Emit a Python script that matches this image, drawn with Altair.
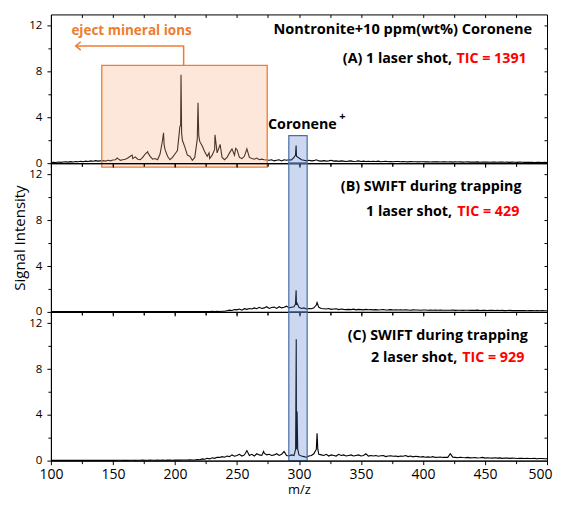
import altair as alt
import pandas as pd

# ---------------- data ----------------
MZ_GRID = list(range(100, 501, 2))

A_INT = [
    0.05, 0.08, 0.06, 0.10, 0.07, 0.10, 0.12, 0.09, 0.13, 0.10,
    0.15, 0.12, 0.16, 0.13, 0.18, 0.15, 0.20, 0.17, 0.22, 0.18,
    0.20, 0.22, 0.18, 0.25, 0.20, 0.28, 0.30, 0.40, 0.25, 0.30,
    0.35, 0.45, 0.60, 0.40, 0.55, 0.35, 0.30, 0.50, 0.80, 0.95,
    0.60, 0.35, 0.40, 0.30, 0.80, 2.00, 1.20, 0.60, 0.30, 0.50,
    0.80, 1.10, 3.20, 2.00, 1.40, 0.70, 0.60, 0.25, 0.50, 2.10,
    1.90, 1.50, 1.00, 0.60, 0.40, 0.70, 1.20, 0.90, 1.50, 0.50,
    0.30, 0.50, 0.90, 1.25, 0.70, 1.20, 0.50, 0.40, 0.60, 1.25,
    0.50, 0.40, 0.35, 0.45, 0.30, 0.35, 0.30, 0.28, 0.25, 0.30,
    0.20, 0.25, 0.30, 0.20, 0.30, 0.25, 0.30, 0.28, 0.50, 0.60,
    0.45, 0.30, 0.25, 0.20, 0.25, 0.20, 0.22, 0.30, 0.20, 0.18,
    0.22, 0.18, 0.20, 0.25, 0.18, 0.20, 0.16, 0.20, 0.18, 0.15,
    0.18, 0.20, 0.15, 0.17, 0.20, 0.15, 0.18, 0.14, 0.17, 0.15,
    0.16, 0.14, 0.18, 0.13, 0.15, 0.16, 0.12, 0.15, 0.13, 0.14,
    0.15, 0.12, 0.14, 0.13, 0.11, 0.14, 0.12, 0.13, 0.11, 0.12,
    0.13, 0.11, 0.12, 0.10, 0.12, 0.11, 0.13, 0.10, 0.11, 0.12,
    0.10, 0.11, 0.09, 0.12, 0.10, 0.11, 0.09, 0.10, 0.11, 0.09,
    0.10, 0.09, 0.11, 0.08, 0.10, 0.09, 0.10, 0.08, 0.09, 0.10,
    0.08, 0.09, 0.10, 0.08, 0.09, 0.07, 0.09, 0.08, 0.07, 0.09,
    0.08, 0.07, 0.08, 0.07, 0.08, 0.06, 0.08, 0.07, 0.06, 0.07,
    0.06,
]
A_PEAK_MZ = [153.5, 165.5, 178.0, 190.8, 191.3, 204.6, 204.9, 205.4, 218.6, 219.2,
             227.5, 232.3, 236.4, 249.0, 297.2, 297.7]
A_PEAK_INT = [0.45, 0.70, 1.00, 2.65, 1.60, 3.30, 7.73, 2.60, 5.28, 2.40,
              0.90, 2.48, 1.65, 1.30, 0.70, 1.55]

B_INT = [
    0.02, 0.03, 0.02, 0.03, 0.02, 0.02, 0.03, 0.02, 0.03, 0.02,
    0.02, 0.03, 0.02, 0.03, 0.02, 0.02, 0.03, 0.02, 0.03, 0.02,
    0.02, 0.03, 0.02, 0.03, 0.02, 0.03, 0.02, 0.03, 0.02, 0.03,
    0.03, 0.02, 0.03, 0.02, 0.03, 0.03, 0.02, 0.03, 0.02, 0.03,
    0.03, 0.02, 0.03, 0.03, 0.02, 0.03, 0.03, 0.02, 0.03, 0.03,
    0.03, 0.04, 0.03, 0.03, 0.04, 0.03, 0.04, 0.03, 0.04, 0.03,
    0.04, 0.03, 0.04, 0.04, 0.03, 0.05, 0.04, 0.05, 0.04, 0.06,
    0.05, 0.10, 0.15, 0.12, 0.20, 0.18, 0.25, 0.15, 0.28, 0.22,
    0.30, 0.25, 0.35, 0.28, 0.40, 0.30, 0.35, 0.45, 0.30, 0.38,
    0.42, 0.30, 0.45, 0.35, 0.40, 0.50, 0.35, 0.40, 0.45, 0.60,
    0.40, 0.30, 0.35, 0.25, 0.30, 0.28, 0.35, 0.60, 0.40, 0.30,
    0.28, 0.25, 0.30, 0.22, 0.25, 0.28, 0.20, 0.25, 0.22, 0.20,
    0.22, 0.20, 0.24, 0.18, 0.22, 0.20, 0.18, 0.22, 0.19, 0.20,
    0.18, 0.20, 0.17, 0.19, 0.21, 0.17, 0.18, 0.20, 0.16, 0.18,
    0.17, 0.19, 0.16, 0.18, 0.17, 0.15, 0.18, 0.16, 0.17, 0.15,
    0.16, 0.17, 0.15, 0.16, 0.14, 0.16, 0.15, 0.17, 0.14, 0.15,
    0.15, 0.14, 0.16, 0.13, 0.15, 0.14, 0.13, 0.15, 0.14, 0.13,
    0.14, 0.13, 0.15, 0.12, 0.14, 0.13, 0.12, 0.14, 0.13, 0.12,
    0.13, 0.12, 0.13, 0.11, 0.12, 0.13, 0.11, 0.12, 0.11, 0.12,
    0.11, 0.12, 0.10, 0.11, 0.12, 0.10, 0.11, 0.10, 0.11, 0.10,
    0.10,
]
B_PEAK_MZ = [297.2, 297.7, 298.3, 314.6]
B_PEAK_INT = [0.70, 1.90, 0.80, 0.82]

C_INT = [
    0.02, 0.02, 0.03, 0.02, 0.02, 0.03, 0.02, 0.02, 0.03, 0.02,
    0.02, 0.03, 0.02, 0.02, 0.03, 0.02, 0.03, 0.02, 0.02, 0.03,
    0.02, 0.03, 0.02, 0.03, 0.02, 0.03, 0.02, 0.03, 0.03, 0.02,
    0.03, 0.02, 0.03, 0.03, 0.02, 0.03, 0.03, 0.04, 0.03, 0.03,
    0.04, 0.03, 0.03, 0.04, 0.03, 0.04, 0.03, 0.04, 0.04, 0.03,
    0.04, 0.05, 0.04, 0.05, 0.06, 0.05, 0.07, 0.06, 0.05, 0.10,
    0.08, 0.15, 0.12, 0.20, 0.15, 0.25, 0.20, 0.30, 0.28, 0.35,
    0.30, 0.40, 0.35, 0.50, 0.38, 0.45, 0.55, 0.40, 0.50, 0.88,
    0.45, 0.55, 0.40, 0.60, 0.50, 0.45, 0.65, 0.50, 0.55, 0.45,
    0.50, 0.60, 0.45, 0.55, 0.80, 0.45, 0.40, 0.50, 0.45, 1.00,
    0.50, 0.40, 0.35, 0.30, 0.40, 0.45, 0.60, 1.00, 0.55, 0.50,
    0.45, 0.55, 0.40, 0.50, 0.45, 0.40, 0.55, 0.45, 0.50, 0.40,
    0.45, 0.50, 0.40, 0.45, 0.50, 0.40, 0.45, 0.60, 0.40, 0.45,
    0.40, 0.45, 0.38, 0.42, 0.45, 0.35, 0.40, 0.42, 0.38, 0.40,
    0.35, 0.40, 0.38, 0.45, 0.35, 0.40, 0.33, 0.38, 0.35, 0.32,
    0.35, 0.30, 0.33, 0.30, 0.35, 0.28, 0.30, 0.32, 0.28, 0.30,
    0.28, 0.60, 0.30, 0.28, 0.25, 0.30, 0.27, 0.25, 0.28, 0.24,
    0.25, 0.27, 0.23, 0.25, 0.28, 0.22, 0.25, 0.23, 0.22, 0.25,
    0.22, 0.24, 0.20, 0.23, 0.22, 0.20, 0.22, 0.21, 0.19, 0.20,
    0.20, 0.18, 0.21, 0.19, 0.18, 0.20, 0.17, 0.19, 0.18, 0.17,
    0.16,
]
C_PEAK_MZ = [271.5, 297.3, 297.8, 298.2, 298.5, 299.0, 314.6, 315.2]
C_PEAK_INT = [0.80, 1.00, 10.60, 2.00, 4.30, 1.00, 2.40, 1.00]

X_MAJOR = list(range(100, 501, 50))
X_MINOR = list(range(125, 500, 50))
X_ALL = list(range(125, 500, 25))
Y_MAJOR = [0, 4, 8, 12]
Y_MINOR = [2, 6, 10]
Y_ALL = [2, 4, 6, 8, 10, 12]

# annotation boxes
ORANGE_BOX = {"x1": [141.0], "x2": [274.4], "y1": [-0.35], "y2": [8.55]}
BLUE_X = [291.8, 306.6]
BLUE_TOP_A = 2.4

# ---------------- helpers ----------------
FONT = "Open Sans"
PANEL_W = 497
PANEL_H = 149
XS = alt.Scale(domain=[100, 500], nice=False, zero=False)
YS = alt.Scale(domain=[0, 13], nice=False, zero=False)


def spectrum(vals, pk_mz, pk_int):
    assert len(vals) == len(MZ_GRID)
    df = pd.DataFrame({"mz": MZ_GRID + pk_mz, "I": vals + pk_int})
    return df.sort_values("mz").reset_index(drop=True)


def axis_layers(df, bottom, ytitle):
    xmain = dict(orient="bottom", values=X_MAJOR, tickSize=4, labels=bottom,
                 labelFontSize=14, labelPadding=3, labelFlush=False, labelFont=FONT,
                 labelOffset={"condition": {"test": "datum.value == 500", "value": -7},
                              "value": 0},
                 grid=False, domainColor="black", tickColor="black", labelColor="black",
                 zindex=1, title="m/z" if bottom else None, titleFont=FONT,
                 titleFontSize=13, titleFontWeight="normal", titlePadding=2,
                 minExtent=0)
    ymain = dict(orient="left", values=Y_MAJOR, tickSize=4, labelFontSize=11.5,
                 labelPadding=5, labelFont=FONT, grid=False, domainColor="black",
                 tickColor="black", labelColor="black", zindex=1,
                 title=ytitle, titleFont=FONT, titleFontSize=15,
                 titleFontWeight="normal", titlePadding=1.5, minExtent=0)
    line = alt.Chart(df).mark_line(color="black", strokeWidth=1.1).encode(
        x=alt.X("mz:Q", scale=XS, axis=alt.Axis(**xmain)),
        y=alt.Y("I:Q", scale=YS, axis=alt.Axis(**ymain)),
    )
    minor = alt.Chart(df).mark_line(opacity=0).encode(
        x=alt.X("mz:Q", scale=XS, axis=alt.Axis(orient="bottom", values=X_MINOR, tickSize=3,
                                                labels=False, domain=False, grid=False,
                                                tickColor="black", title=None,
                                                minExtent=0, maxExtent=0)),
        y=alt.Y("I:Q", scale=YS, axis=alt.Axis(orient="left", values=Y_MINOR, tickSize=3,
                                               labels=False, domain=False, grid=False,
                                               tickColor="black", title=None,
                                               minExtent=0, maxExtent=0)),
    )
    inward = alt.Chart(df).mark_line(opacity=0).encode(
        x=alt.X("mz:Q", scale=XS, axis=alt.Axis(orient="top", values=X_ALL, tickSize=3,
                                                offset=-3, labels=False, domain=False,
                                                grid=False, tickColor="black", title=None,
                                                minExtent=0, maxExtent=0)),
        y=alt.Y("I:Q", scale=YS, axis=alt.Axis(orient="right", values=Y_ALL, tickSize=3,
                                               offset=-3, labels=False, domain=False,
                                               grid=False, tickColor="black", title=None,
                                               minExtent=0, maxExtent=0)),
    )
    return [line, minor, inward]


def rect_layer(box, fill, stroke, opacity=0.3, sw=1.2):
    return alt.Chart(pd.DataFrame(box)).mark_rect(
        fill=fill, fillOpacity=opacity, stroke=stroke, strokeWidth=sw
    ).encode(
        x=alt.X("x1:Q", scale=XS, axis=None), x2="x2:Q",
        y=alt.Y("y1:Q", scale=YS, axis=None), y2="y2:Q",
    )


def text_layer(mz, y, labels, align, color, size=14.3, weight="bold"):
    df = pd.DataFrame({"mz": mz, "y": y, "t": labels})
    return alt.Chart(df).mark_text(
        align=align, baseline="middle", font=FONT, fontSize=size,
        fontWeight=weight, color=color
    ).encode(
        x=alt.X("mz:Q", scale=XS, axis=None),
        y=alt.Y("y:Q", scale=YS, axis=None),
        text="t:N",
    )


def blue_box(y1, y2):
    return rect_layer({"x1": [BLUE_X[0]], "x2": [BLUE_X[1]], "y1": [y1], "y2": [y2]},
                      "#4472c4", "#4a6fa5", 0.28, 1.2)


# ---------------- panel A ----------------
dfA = spectrum(A_INT, A_PEAK_MZ, A_PEAK_INT)
arrow_df = pd.DataFrame({"mz": [120.0, 207.0, 207.0], "y": [10.25, 10.25, 8.55], "i": [0, 1, 2]})
arrow_line = alt.Chart(arrow_df).mark_line(color="#ed7d31", strokeWidth=1.5).encode(
    x=alt.X("mz:Q", scale=XS, axis=None), y=alt.Y("y:Q", scale=YS, axis=None),
    order="i:Q")
arrow_head = alt.Chart(pd.DataFrame({"mz": [122.0], "y": [10.25]})).mark_point(
    shape="M0.6,-1L-0.6,0L0.6,1", size=70, filled=False, color="#ed7d31", strokeWidth=1.5,
    opacity=1).encode(
    x=alt.X("mz:Q", scale=XS, axis=None), y=alt.Y("y:Q", scale=YS, axis=None))

panelA = alt.layer(
    *axis_layers(dfA, False, None),
    rect_layer(ORANGE_BOX, "#f4b183", "#ed7d31", 0.3, 1.3),
    blue_box(0, BLUE_TOP_A),
    arrow_line, arrow_head,
    text_layer([165.0], [11.56], ["eject mineral ions"], "center", "#ed7d31", 13.5),
    text_layer([383.7], [11.65], ["Nontronite+10 ppm(wt%) Coronene"], "center", "black", 14.6),
    text_layer([423.5], [9.1], ["(A) 1 laser shot,"], "right", "black"),
    text_layer([427.0], [9.1], ["TIC = 1391"], "left", "#ff0000"),
    text_layer([275.0], [3.3], ["Coronene"], "left", "black"),
    text_layer([332.5], [4.05], ["+"], "left", "black", 11),
).resolve_axis(x="independent", y="independent").properties(width=PANEL_W, height=PANEL_H)

# ---------------- panel B ----------------
dfB = spectrum(B_INT, B_PEAK_MZ, B_PEAK_INT)
panelB = alt.layer(
    *axis_layers(dfB, False, "Signal Intensity"),
    blue_box(0, 13),
    text_layer([406.6], [10.9], ["(B) SWIFT during trapping"], "center", "black"),
    text_layer([423.5], [8.7], ["1 laser shot,"], "right", "black"),
    text_layer([427.6], [8.7], ["TIC = 429"], "left", "#ff0000"),
).resolve_axis(x="independent", y="independent").properties(width=PANEL_W, height=PANEL_H)

# ---------------- panel C ----------------
dfC = spectrum(C_INT, C_PEAK_MZ, C_PEAK_INT)
panelC = alt.layer(
    *axis_layers(dfC, True, None),
    blue_box(0, 13),
    text_layer([411.9], [10.9], ["(C) SWIFT during trapping"], "center", "black"),
    text_layer([427.6], [9.0], ["2 laser shot,"], "right", "black"),
    text_layer([431.6], [9.0], ["TIC = 929"], "left", "#ff0000"),
).resolve_axis(x="independent", y="independent").properties(width=PANEL_W, height=PANEL_H)

chart = alt.vconcat(panelA, panelB, panelC, spacing=0, bounds="flush").properties(
    padding={"left": 3, "top": 5, "right": 0, "bottom": 0},
    background="white",
).configure_view(stroke="black", strokeWidth=1)

chart.save("out.html", embed_options={"renderer": "svg", "actions": False})
